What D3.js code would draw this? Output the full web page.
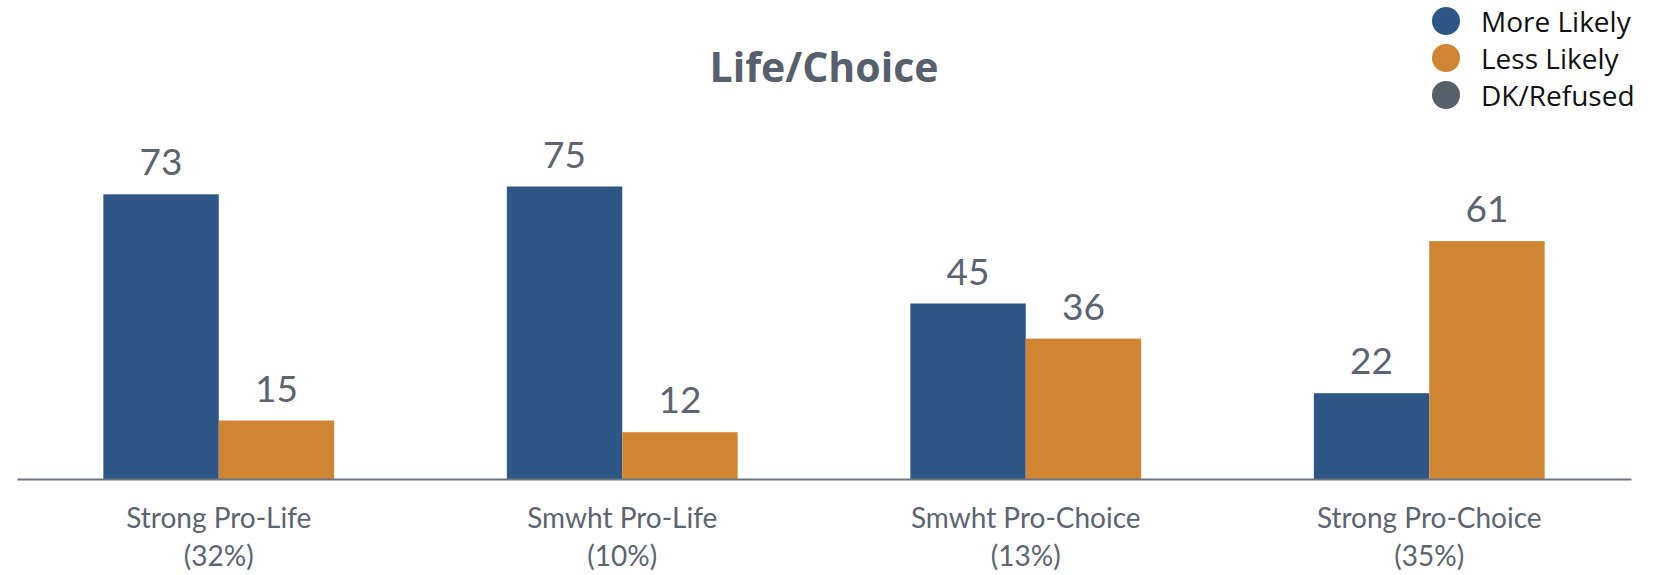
<!DOCTYPE html>
<html>
<head>
<meta charset="utf-8">
<script src="https://cdn.jsdelivr.net/npm/d3@7"></script>
<style>
  html, body { margin: 0; padding: 0; background: #ffffff; }
  svg { display: block; }
</style>
</head>
<body>
<svg id="chart" width="1660" height="575"></svg>
<script>
// Survey results by abortion position
const categories = ["Strong Pro-Life", "Smwht Pro-Life", "Smwht Pro-Choice", "Strong Pro-Choice"];
const shares = ["(32%)", "(10%)", "(13%)", "(35%)"];
const seriesNames = ["More Likely", "Less Likely", "DK/Refused"];
const moreLikely = [73, 75, 45, 22];
const lessLikely = [15, 12, 36, 61];
const seriesColors = ["#2e5788", "#cf8532", "#56606b"];
const chartTitle = "Life/Choice";

const svg = d3.select("#chart");
const left = 17, right = 1631, baseY = 479, topY = 89;
const labelColor = "#5a6472";

// Only the two plotted series produce bars; DK/Refused appears in the legend only
const plotted = [moreLikely, lessLikely];
const rows = categories.map((c, i) => ({
  cat: c,
  share: shares[i],
  vals: plotted.map((arr, s) => ({ key: seriesNames[s], value: arr[i], color: seriesColors[s] }))
}));

const x0 = d3.scaleBand()
  .domain(categories)
  .range([left, right])
  .paddingInner(0.428)
  .paddingOuter(0.214);

const x1 = d3.scaleBand()
  .domain(seriesNames.slice(0, 2))
  .range([0, x0.bandwidth()]);

const y = d3.scaleLinear().domain([0, 100]).range([baseY, topY]);

// Title
svg.append("text")
  .attr("x", (left + right) / 2)
  .attr("y", 82)
  .attr("text-anchor", "middle")
  .attr("font-family", "'Open Sans', sans-serif")
  .attr("font-weight", 700)
  .attr("font-size", 41)
  .attr("fill", "#56606c")
  .text(chartTitle);

// Bars
const groups = svg.append("g").selectAll("g")
  .data(rows)
  .join("g")
  .attr("transform", d => `translate(${x0(d.cat)},0)`);

groups.selectAll("rect")
  .data(d => d.vals)
  .join("rect")
  .attr("x", d => x1(d.key))
  .attr("y", d => y(d.value))
  .attr("width", x1.bandwidth())
  .attr("height", d => y(0) - y(d.value))
  .attr("fill", d => d.color);

// Value labels
groups.selectAll("text.val")
  .data(d => d.vals)
  .join("text")
  .attr("class", "val")
  .attr("x", d => x1(d.key) + x1.bandwidth() / 2)
  .attr("y", d => y(d.value) - 19)
  .attr("text-anchor", "middle")
  .attr("font-family", "Lato, sans-serif")
  .attr("font-size", 37)
  .attr("fill", labelColor)
  .text(d => d.value);

// Baseline axis
const xAxis = d3.axisBottom(x0).tickSize(0).tickFormat("");
const axisG = svg.append("g")
  .attr("transform", `translate(0,${baseY})`)
  .call(xAxis);
axisG.select(".domain")
  .attr("stroke", "#6c7683")
  .attr("stroke-width", 2);

// Category labels (two lines)
const catLabels = svg.append("g").selectAll("text")
  .data(rows)
  .join("text")
  .attr("text-anchor", "middle")
  .attr("font-family", "Lato, sans-serif")
  .attr("font-size", 28)
  .attr("fill", labelColor);

catLabels.append("tspan")
  .attr("x", d => x0(d.cat) + x0.bandwidth() / 2)
  .attr("y", 528)
  .text(d => d.cat);
catLabels.append("tspan")
  .attr("x", d => x0(d.cat) + x0.bandwidth() / 2)
  .attr("y", 566)
  .text(d => d.share);

// Legend
const legend = svg.append("g").selectAll("g")
  .data(seriesNames)
  .join("g")
  .attr("transform", (d, i) => `translate(1446,${21 + i * 37})`);

legend.append("circle")
  .attr("r", 14)
  .attr("fill", (d, i) => seriesColors[i]);

legend.append("text")
  .attr("x", 35)
  .attr("y", 11)
  .attr("font-family", "'Open Sans', sans-serif")
  .attr("font-size", 28)
  .attr("fill", "#111111")
  .text(d => d);
</script>
</body>
</html>
